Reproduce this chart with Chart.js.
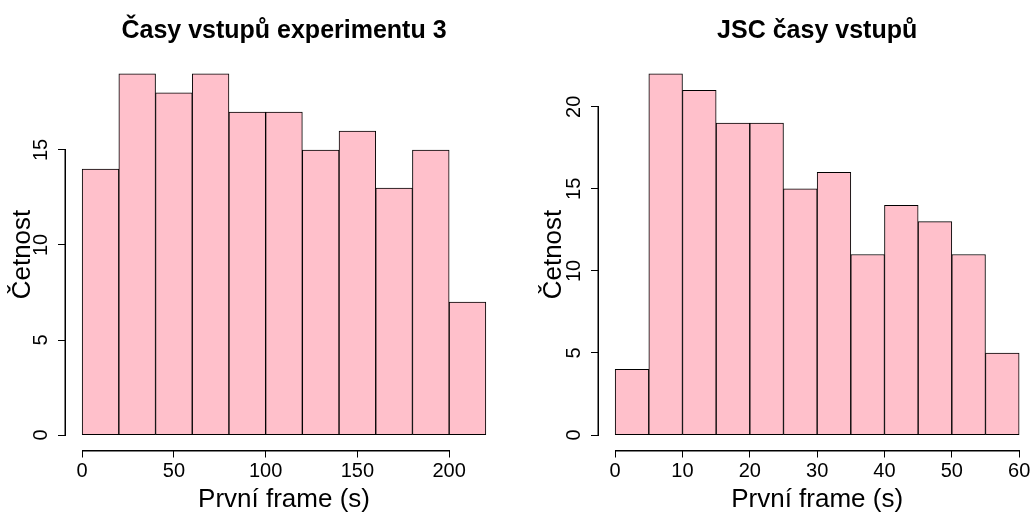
<!DOCTYPE html>
<html>
<head>
<meta charset="utf-8">
<script src="https://cdn.jsdelivr.net/npm/chart.js@4"></script>
<style>
  html, body { margin: 0; padding: 0; background: #fff; overflow: hidden; width: 1033px; height: 513px; }
  #wrap { position: relative; width: 1033px; height: 513px; overflow: hidden; }
  canvas { position: absolute; top: 0; }
  #c1 { left: 0; }
  #c2 { left: 516px; }
</style>
</head>
<body>
<div id="wrap">
  <canvas id="c1" width="516" height="513"></canvas>
  <canvas id="c2" width="520" height="513"></canvas>
</div>
<script>
// ---- data ----
const leftTitle = 'Časy vstupů experimentu 3';
const leftBinEdges = [0, 20, 40, 60, 80, 100, 120, 140, 160, 180, 200, 220];
const leftCounts = [14, 19, 18, 19, 17, 17, 15, 16, 13, 15, 7];
const leftXStep = 50;
const leftYStep = 5;

const rightTitle = 'JSC časy vstupů';
const rightBinEdges = [0, 5, 10, 15, 20, 25, 30, 35, 40, 45, 50, 55, 60];
const rightCounts = [4, 22, 21, 19, 19, 15, 16, 11, 14, 13, 11, 5];
const rightXStep = 10;
const rightYStep = 5;

const xLabel = 'První frame (s)';
const yLabel = 'Četnost';

const FONT = "'Liberation Sans', Arial, Helvetica, sans-serif";

// R-style detached axis lines spanning first..last tick
const rAxisPlugin = {
  id: 'rAxis',
  afterDraw(chart) {
    const ctx = chart.ctx;
    const xs = chart.scales.x, ys = chart.scales.y;
    const ca = chart.chartArea;
    const xt = xs.ticks, yt = ys.ticks;
    ctx.save();
    ctx.fillStyle = '#000000';
    // x axis line
    const yLine = Math.round(ca.bottom);
    const x0 = Math.round(xs.getPixelForValue(xt[0].value));
    const x1 = Math.round(xs.getPixelForValue(xt[xt.length - 1].value));
    ctx.fillRect(x0, yLine, x1 - x0 + 1, 1.5);
    // y axis line
    const xLine = Math.round(ca.left) - 1.5;
    const y0 = Math.round(ys.getPixelForValue(yt[0].value));
    const y1 = Math.round(ys.getPixelForValue(yt[yt.length - 1].value));
    ctx.fillRect(xLine, y1, 1.5, y0 - y1 + 1);
    ctx.restore();
  }
};

function makeHist(canvasId, title, edges, counts, xStep, yStep, yAxisWidth, padRight, yTitlePad) {
  const lo = edges[0], hi = edges[edges.length - 1];
  const xr = hi - lo;
  const yMax = Math.max(...counts);
  const points = counts.map((c, i) => ({ x: (edges[i] + edges[i + 1]) / 2, y: c }));
  return new Chart(document.getElementById(canvasId), {
    type: 'bar',
    data: {
      datasets: [{
        data: points,
        backgroundColor: '#FFC0CB',
        borderColor: '#000',
        borderWidth: 1,
        borderSkipped: false,
        barPercentage: 1.0,
        categoryPercentage: 1.0
      }]
    },
    options: {
      responsive: false,
      animation: false,
      layout: { padding: { left: 0, right: padRight, top: 0, bottom: 0 } },
      plugins: {
        legend: { display: false },
        tooltip: { enabled: false },
        title: {
          display: true,
          text: title,
          fullSize: false,
          color: '#000',
          font: { family: FONT, size: 25, weight: 'bold', lineHeight: 1 },
          padding: { top: 18.5, bottom: 16 }
        }
      },
      scales: {
        x: {
          type: 'linear',
          min: lo - 0.04 * xr,
          max: hi + 0.04 * xr,
          offset: false,
          border: { display: false },
          grid: { display: true, offset: false, drawOnChartArea: false, drawTicks: true, tickLength: 8, color: '#000', lineWidth: 1 },
          ticks: {
            stepSize: xStep,
            includeBounds: false,
            autoSkip: false,
            maxRotation: 0,
            minRotation: 0,
            padding: 1.5,
            color: '#000',
            font: { family: FONT, size: 20 }
          },
          title: {
            display: true,
            text: xLabel,
            color: '#000',
            font: { family: FONT, size: 26, lineHeight: 1 },
            padding: { top: 0, bottom: 0 }
          },
          afterFit(scale) { scale.height = 63.5; }
        },
        y: {
          type: 'linear',
          min: -0.04 * yMax,
          max: yMax * 1.04,
          border: { display: false },
          grid: { display: true, offset: false, drawOnChartArea: false, drawTicks: true, tickLength: 8, color: '#000', lineWidth: 1 },
          ticks: {
            stepSize: yStep,
            includeBounds: false,
            autoSkip: false,
            minRotation: 90,
            maxRotation: 90,
            crossAlign: 'center',
            padding: 5.4,
            color: '#000',
            font: { family: FONT, size: 20 }
          },
          title: {
            display: true,
            text: yLabel,
            color: '#000',
            font: { family: FONT, size: 26, lineHeight: 1 },
            padding: { top: yTitlePad, bottom: 0 }
          },
          afterFit(scale) { scale.width = yAxisWidth; }
        }
      }
    },
    plugins: [rAxisPlugin]
  });
}

makeHist('c1', leftTitle, leftBinEdges, leftCounts, leftXStep, leftYStep, 66, 14, 9.7);
makeHist('c2', rightTitle, rightBinEdges, rightCounts, rightXStep, rightYStep, 83, 0.7, 25);
</script>
</body>
</html>
